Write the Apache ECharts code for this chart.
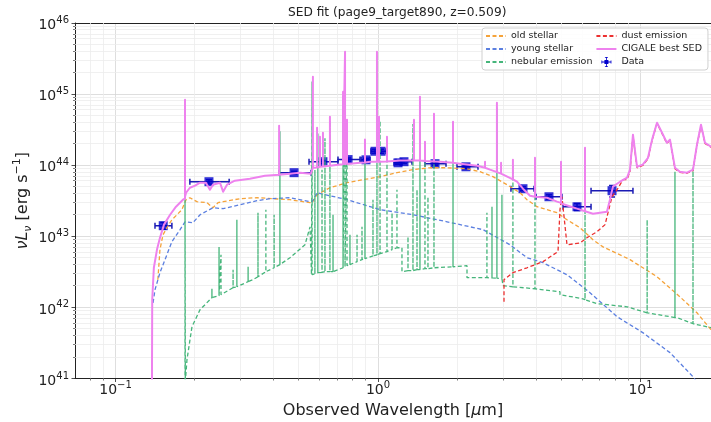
<!DOCTYPE html>
<html>
<head>
<meta charset="utf-8">
<title>SED fit</title>
<script src="https://cdn.jsdelivr.net/npm/echarts@6.0.0/dist/echarts.min.js"></script>
<style>
  html, body { margin: 0; padding: 0; background: #fff; }
  #chart { width: 711px; height: 422px; }
</style>
</head>
<body>
<div id="chart"></div>
<script>
// wavelength in micron, nuLnu in erg/s

// photometry points
const dataLam = [0.152, 0.227, 0.479, 0.617, 0.769, 0.900, 0.974, 1.027, 1.192, 1.256, 1.649, 2.163, 3.567, 4.48, 5.73, 7.79];
const dataLum = [1.41e43, 5.86e43, 7.85e43, 1.12e44, 1.2e44, 1.19e44, 1.57e44, 1.57e44, 1.08e44, 1.12e44, 1.05e44, 9.5e43, 4.67e43, 3.6e43, 2.6e43, 4.38e43];
const dataLamLo = [0.1414, 0.192, 0.42, 0.546, 0.704, 0.862, 0.94, 0.99, 1.151, 1.171, 1.51, 2.0, 3.21, 4.0, 5.07, 6.48];
const dataLamHi = [0.164, 0.271, 0.556, 0.704, 0.854, 0.932, 1.01, 1.073, 1.234, 1.347, 1.816, 2.404, 3.93, 5.02, 6.48, 9.36];
const dataLumErr = [1.5e42, 4e42, 4e42, 6e42, 6e42, 6e42, 1e43, 1e43, 6e42, 6e42, 5e42, 5e42, 3e42, 2.5e42, 3e42, 8e42];

// old stellar component
const oldStellar = [
  [0.145, 2.45e42], [0.1477, 6.5e42], [0.1517, 1.05e43], [0.157, 1.32e43], [0.164, 1.71e43], [0.1715, 2.01e43],
  [0.179, 2.37e43], [0.1857, 3.27e43], [0.192, 3.49e43], [0.2042, 3.07e43], [0.223, 2.97e43], [0.235, 2.52e43],
  [0.2457, 2.97e43], [0.257, 3.07e43], [0.298, 3.38e43], [0.346, 3.49e43], [0.398, 3.38e43], [0.462, 3.27e43],
  [0.551, 2.97e43], [0.561, 2.97e43], [0.586, 3.85e43], [0.656, 4.82e43], [0.762, 5.68e43], [0.877, 6.25e43],
  [1.018, 6.9e43], [1.181, 7.85e43], [1.359, 8.65e43], [1.578, 9.2e43], [1.832, 9.2e43], [2.183, 8.9e43],
  [2.447, 8.1e43], [2.742, 6.9e43], [3.098, 5.32e43], [3.475, 4.1e43], [3.695, 3.27e43], [4.034, 2.61e43],
  [4.808, 2.15e43], [5.248, 1.71e43], [5.883, 1.32e43], [6.59, 8.95e42], [7.20, 7.1e42], [9.12, 4.7e42],
  [11.56, 2.7e42], [14.13, 1.41e42], [16.41, 8.4e41], [18.56, 4.86e41], [20.1, 4.0e41]
];

// young stellar component
const youngStellar = [
  [0.139, 1.16e42], [0.1414, 1.77e42], [0.1477, 3.08e42], [0.1544, 4.7e42], [0.164, 8.4e42], [0.1762, 1.24e43],
  [0.184, 1.6e43], [0.197, 1.55e43], [0.21, 2.01e43], [0.235, 2.52e43], [0.257, 2.45e43], [0.298, 2.78e43],
  [0.346, 3.17e43], [0.388, 3.38e43], [0.462, 3.49e43], [0.551, 3.07e43], [0.561, 3.07e43], [0.586, 4.1e43],
  [0.762, 3.27e43], [1.018, 2.37e43], [1.359, 2.01e43], [1.832, 1.6e43], [2.512, 1.24e43], [3.184, 7.6e42],
  [3.695, 5.0e42], [4.253, 4.25e42], [5.248, 2.88e42], [6.42, 1.61e42], [8.14, 7.4e41], [10.2, 4.42e41],
  [12.95, 2.31e41], [15.85, 1.06e41], [16.8, 8e40]
];

// nebular emission: continuum plus lines (each line = base, peak, base)
const nebular = [
  [0.184, 9e40], [0.184, 3.3e43], [0.1845, 9e40],
  [0.1872, 1.84e41], [0.1956, 5.36e41], [0.21, 9.3e41],
  [0.233, 1.37e42], [0.233, 1.83e42], [0.233, 1.37e42],
  [0.235, 1.4e42],
  [0.248, 1.46e42], [0.248, 7.1e42], [0.248, 1.46e42],
  [0.2523, 1.51e42], [0.2523, 5.5e42], [0.2523, 1.51e42],
  [0.2805, 1.89e42], [0.2805, 3.39e42], [0.2805, 1.89e42],
  [0.290, 1.95e42], [0.290, 1.71e43], [0.290, 1.95e42],
  [0.320, 2.3e42], [0.320, 3.73e42], [0.320, 2.3e42],
  [0.334, 2.45e42],
  [0.349, 2.7e42], [0.349, 2.15e43], [0.349, 2.7e42],
  [0.374, 3.18e42], [0.374, 2.37e43], [0.374, 3.18e42],
  [0.402, 3.61e42], [0.402, 2.01e43], [0.402, 3.61e42],
  [0.423, 4.0e42], [0.423, 3.0e44], [0.423, 4.0e42],
  [0.462, 5.0e42], [0.527, 7.6e42], [0.551, 1.36e43], [0.558, 2.88e42],
  [0.561, 2.88e42], [0.561, 1.5e45], [0.561, 2.88e42],
  [0.575, 2.98e42], [0.575, 8.6e43], [0.575, 2.98e42],
  [0.590, 3.08e42], [0.590, 2.8e44], [0.590, 3.08e42],
  [0.612, 3.1e42], [0.612, 8.6e43], [0.612, 3.1e42],
  [0.628, 3.18e42], [0.628, 2.4e44], [0.628, 3.18e42],
  [0.656, 3.18e42], [0.656, 4.2e44], [0.656, 3.18e42],
  [0.674, 3.18e42], [0.674, 2.01e43], [0.674, 3.18e42],
  [0.736, 3.61e42], [0.736, 9.5e44], [0.736, 3.61e42],
  [0.749, 3.73e42], [0.749, 3.5e45], [0.749, 3.73e42],
  [0.762, 3.86e42], [0.762, 3.8e44], [0.762, 3.86e42],
  [0.782, 4.0e42], [0.782, 1.05e43], [0.782, 4.0e42],
  [0.832, 4.4e42], [0.832, 1.05e43], [0.832, 4.4e42],
  [0.869, 4.7e42], [0.869, 1.36e43], [0.869, 4.7e42],
  [0.892, 4.85e42], [0.892, 2.0e44], [0.892, 4.85e42],
  [0.957, 5.3e42], [0.957, 3.27e43], [0.957, 5.3e42],
  [0.991, 5.5e42], [0.991, 3.5e45], [0.991, 5.5e42],
  [1.018, 5.7e42], [1.018, 4.2e44], [1.018, 5.7e42],
  [1.082, 6.1e42], [1.082, 2.2e44], [1.082, 6.1e42],
  [1.131, 6.5e42], [1.131, 2.15e43], [1.131, 6.5e42],
  [1.181, 6.9e42], [1.181, 4.52e43], [1.181, 6.9e42],
  [1.234, 6.9e42], [1.234, 3.18e42],
  [1.301, 3.28e42], [1.301, 9.9e42], [1.301, 3.28e42],
  [1.359, 3.3e42], [1.359, 3.8e44], [1.359, 3.3e42],
  [1.408, 3.39e42], [1.408, 4.52e43], [1.408, 3.39e42],
  [1.445, 3.39e42], [1.445, 8.0e44], [1.445, 3.39e42],
  [1.510, 3.5e42], [1.510, 1.9e44], [1.510, 3.5e42],
  [1.550, 3.5e42], [1.550, 3.6e43], [1.550, 3.5e42],
  [1.634, 3.61e42], [1.634, 4.6e44], [1.634, 3.61e42],
  [1.931, 3.73e42], [1.931, 3.6e44], [1.931, 3.73e42],
  [2.183, 3.86e42], [2.183, 2.62e42],
  [2.60, 2.62e42], [2.60, 2.15e43], [2.60, 2.62e42],
  [2.718, 2.6e42], [2.718, 2.61e43], [2.718, 2.6e42],
  [2.838, 2.58e42], [2.838, 6.5e44], [2.838, 2.58e42],
  [2.966, 2.54e42], [2.966, 3.85e43], [2.966, 2.54e42],
  [2.993, 2.54e42], [2.993, 2.02e42],
  [3.266, 1.95e42], [3.266, 1.0e44], [3.266, 1.95e42],
  [3.963, 1.83e42], [3.963, 1.1e44], [3.963, 1.83e42],
  [4.935, 1.66e42], [4.935, 1.51e42],
  [6.04, 1.32e42],
  [6.147, 1.28e42], [6.147, 1.5e44], [6.147, 1.28e42],
  [6.83, 1.13e42], [8.89, 1.02e42],
  [10.6, 8.4e41], [10.6, 1.71e43], [10.6, 8.4e41],
  [13.53, 7.2e41], [13.53, 8.1e43], [13.53, 7.2e41],
  [13.77, 7.2e41],
  [15.85, 5.9e41], [15.85, 9.2e43], [15.85, 5.9e41],
  [18.56, 5.19e41], [20.1, 4.9e41]
];

// dust emission
const dust = [
  [3.02, 1.2e42], [3.02, 2.45e42], [3.266, 3.08e42], [3.695, 3.61e42], [4.253, 4.4e42], [4.85, 6.1e42],
  [4.935, 2.37e43], [5.02, 3.6e43], [5.248, 7.6e42], [5.883, 8.05e42], [6.25, 9.55e42], [6.83, 1.16e43],
  [7.33, 1.46e43], [7.52, 2.15e43], [7.79, 3.6e43], [8.14, 4.52e43], [8.58, 6.25e43], [8.89, 6.3e43],
  [9.12, 8.2e43], [9.36, 2.6e44], [9.70, 9.2e43], [10.2, 9.9e43], [10.68, 1.23e44], [11.07, 2.25e44],
  [11.56, 3.9e44], [12.08, 2.8e44], [12.6, 2.02e44], [12.95, 2.25e44], [13.53, 8.9e43], [14.13, 7.9e43],
  [15.03, 7.7e43], [15.85, 8.4e43], [16.41, 1.9e44], [17.0, 3.65e44], [17.6, 2.03e44], [18.56, 1.79e44],
  [20.1, 1.9e44]
];

// CIGALE best-fit total SED
const bestSed = [
  [0.1377, 9e40], [0.138, 1.28e42], [0.140, 3.61e42], [0.1439, 6.5e42], [0.1477, 9.55e42], [0.153, 1.46e43],
  [0.1614, 2.01e43], [0.170, 2.61e43], [0.1807, 3.27e43],
  [0.184, 3.4e43], [0.184, 8.3e44], [0.184, 3.6e43],
  [0.1857, 4.1e43], [0.192, 4.82e43], [0.201, 5.15e43], [0.21, 5.68e43], [0.221, 5.68e43], [0.229, 4.52e43],
  [0.235, 5.32e43], [0.25, 5.68e43], [0.257, 4.24e43], [0.266, 5.32e43], [0.285, 6.05e43], [0.325, 6.45e43],
  [0.371, 7.1e43],
  [0.42, 7.35e43], [0.42, 3.6e44], [0.42, 7.35e43],
  [0.462, 7.6e43], [0.505, 7.85e43], [0.555, 7.6e43],
  [0.565, 9.2e43], [0.565, 1.76e45], [0.565, 9.2e43],
  [0.586, 9.3e43], [0.586, 3.37e44], [0.586, 9.3e43],
  [0.601, 9.5e43], [0.601, 2.52e44], [0.601, 9.5e43],
  [0.617, 9.6e43], [0.617, 2.86e44], [0.617, 9.6e43],
  [0.656, 9.8e43], [0.656, 4.81e44], [0.656, 9.8e43],
  [0.717, 1.02e44],
  [0.736, 1.03e44], [0.736, 1.08e45], [0.736, 1.03e44],
  [0.749, 1.03e44], [0.749, 3.94e45], [0.749, 1.03e44],
  [0.762, 1.04e44], [0.762, 4.37e44], [0.762, 1.04e44],
  [0.782, 1.05e44], [0.854, 1.08e44],
  [0.892, 1.09e44], [0.892, 2.29e44], [0.892, 1.09e44],
  [0.932, 1.12e44],
  [0.991, 1.12e44], [0.991, 3.94e45], [0.991, 1.12e44],
  [1.009, 1.12e44], [1.009, 4.81e44], [1.009, 1.12e44],
  [1.018, 1.12e44],
  [1.082, 1.13e44], [1.082, 2.52e44], [1.082, 1.13e44],
  [1.213, 1.16e44],
  [1.371, 1.16e44], [1.371, 4.37e44], [1.371, 1.16e44],
  [1.445, 1.16e44], [1.445, 9.2e44], [1.445, 1.16e44],
  [1.51, 1.15e44], [1.51, 2.14e44], [1.51, 1.15e44],
  [1.634, 1.13e44], [1.634, 5.3e44], [1.634, 1.13e44],
  [1.722, 1.12e44],
  [1.931, 1.08e44], [1.931, 4.09e44], [1.931, 1.08e44],
  [2.053, 1.05e44], [2.383, 9.8e43],
  [2.557, 9.2e43], [2.557, 1.12e44], [2.557, 9.2e43],
  [2.672, 8.65e43],
  [2.838, 8.0e43], [2.838, 7.57e44], [2.838, 8.0e43],
  [2.943, 7.6e43], [2.943, 1.08e44], [2.943, 7.6e43],
  [2.993, 7.35e43],
  [3.266, 6.3e43], [3.266, 1.19e44], [3.266, 6.3e43],
  [3.385, 5.86e43], [3.567, 4.67e43], [3.794, 3.72e43],
  [3.963, 3.6e43], [3.963, 1.27e44], [3.963, 3.6e43],
  [4.405, 3.49e43], [4.808, 3.07e43],
  [4.98, 2.95e43], [4.98, 1.12e44], [4.98, 2.9e43],
  [5.157, 2.78e43], [5.883, 2.37e43],
  [6.147, 2.25e43], [6.147, 1.76e44], [6.147, 2.25e43],
  [6.59, 2.08e43], [7.45, 2.22e43], [7.65, 3.27e43], [7.85, 4.99e43], [8.36, 5.86e43], [8.89, 6.7e43],
  [9.12, 8.65e43], [9.36, 2.69e44], [9.70, 9.5e43], [10.2, 1.02e44], [10.68, 1.27e44], [11.07, 2.29e44],
  [11.56, 3.96e44], [12.08, 2.86e44], [12.6, 2.07e44], [12.95, 2.29e44], [13.53, 9.2e43], [14.13, 8.1e43],
  [15.03, 7.85e43], [15.85, 8.65e43], [16.41, 1.94e44], [17.0, 3.71e44], [17.6, 2.07e44], [18.56, 1.82e44],
  [20.1, 1.94e44]
];

// axis ranges and grid ticks
const xMin = 0.0701, xMax = 18.56, yMin = 1e41, yMax = 1e46;
const xMinorTicks = [0.08, 0.09, 0.2, 0.3, 0.4, 0.5, 0.6, 0.7, 0.8, 0.9, 2, 3, 4, 5, 6, 7, 8, 9];
const yDecades = [1e41, 1e42, 1e43, 1e44, 1e45];
const yMinorMantissa = [2, 3, 4, 5, 6, 7, 8, 9];
const yMinorTicks = yDecades.flatMap(d => yMinorMantissa.map(m => m * d));

const FONT = 'DejaVu Sans';
const INK = '#222';

function powLabel(v) {
  const e = Math.round(Math.log10(v));
  if (Math.abs(Math.log10(v) - e) > 1e-6) return '';
  return '{b|10}{s|' + String(e).replace('-', '\u2212') + '}';
}
const powRich = {
  b: { fontFamily: FONT, fontSize: 14, lineHeight: 20, color: INK },
  s: { fontFamily: FONT, fontSize: 10, lineHeight: 10, verticalAlign: 'top', color: INK }
};

function crisp(v) { return Math.round(v - 0.5) + 0.5; }

const chart = echarts.init(document.getElementById('chart'));

const hideDot = { opacity: 0 };

chart.setOption({
  animation: false,
  backgroundColor: '#fff',
  title: {
    text: 'SED fit (page9_target890, z=0.509)',
    left: 283,
    top: 2,
    textStyle: { fontFamily: FONT, fontSize: 12.2, fontWeight: 'normal', color: INK }
  },
  legend: {
    orient: 'vertical',
    left: 482,
    top: 28,
    height: 46,
    itemWidth: 20,
    itemHeight: 10,
    itemGap: 3,
    padding: [3, 6, 3, 3],
    backgroundColor: 'rgba(255,255,255,0.85)',
    borderColor: '#d0d0d0',
    borderWidth: 1,
    borderRadius: 3,
    textStyle: { fontFamily: FONT, fontSize: 9.5, color: INK, padding: [0, 17, 0, 0] },
    data: [
      { name: 'old stellar', itemStyle: hideDot },
      { name: 'young stellar', itemStyle: hideDot },
      { name: 'nebular emission', itemStyle: hideDot },
      { name: 'dust emission', itemStyle: hideDot },
      { name: 'CIGALE best SED', itemStyle: hideDot },
      { name: 'Data', icon: 'path://M3,3h4v4h-4z M0,4.6h10v0.8h-10z M4.6,0h0.8v10h-0.8z M0,3.5h0.8v3h-0.8z M9.2,3.5h0.8v3h-0.8z M3.5,0h3v0.8h-3z M3.5,9.2h3v0.8h-3z', itemStyle: { color: '#0000cd', opacity: 1 } }
    ]
  },
  grid: { left: 75, right: 0, top: 23, bottom: 43.5, outerBoundsMode: 'none', containLabel: false },
  xAxis: [{
    type: 'log',
    logBase: 10,
    min: xMin,
    max: xMax,
    name: 'Observed Wavelength [{it|\u03bc}m]',
    nameLocation: 'middle',
    nameGap: 22,
    nameMoveOverlap: false,
    nameTextStyle: {
      fontFamily: FONT, fontSize: 16, color: INK, lineHeight: 20,
      rich: { it: { fontFamily: FONT, fontSize: 16, fontStyle: 'italic', color: INK, lineHeight: 20 } }
    },
    axisLine: { show: true, lineStyle: { color: INK, width: 1 } },
    axisTick: { show: true, length: 3.5, lineStyle: { color: INK, width: 0.8 } },
    axisLabel: { margin: 2, formatter: powLabel, rich: powRich, showMinLabel: false, showMaxLabel: false },
    splitLine: { show: true, lineStyle: { color: '#d6d6d6', width: 0.8 } }
  }, {
    type: 'log',
    logBase: 10,
    position: 'top',
    min: xMin,
    max: xMax,
    axisLine: { show: true, lineStyle: { color: INK, width: 1 } },
    axisTick: { show: false },
    axisLabel: { show: false },
    splitLine: { show: false }
  }],
  yAxis: {
    type: 'log',
    logBase: 10,
    min: yMin,
    max: yMax,
    name: '{it|\u03bdL}{sub|\u03bd} [erg s{sup|\u22121}]',
    nameLocation: 'middle',
    nameRotate: 90,
    nameGap: 41,
    nameMoveOverlap: false,
    nameTextStyle: {
      fontFamily: FONT, fontSize: 16, color: INK, lineHeight: 22,
      rich: {
        it: { fontFamily: FONT, fontSize: 16, fontStyle: 'italic', color: INK, lineHeight: 22 },
        sub: { fontFamily: FONT, fontSize: 11, fontStyle: 'italic', color: INK, lineHeight: 14, verticalAlign: 'bottom' },
        sup: { fontFamily: FONT, fontSize: 11, color: INK, lineHeight: 12, verticalAlign: 'top' }
      }
    },
    axisLine: { show: true, lineStyle: { color: INK, width: 1 } },
    axisTick: { show: true, length: 3.5, lineStyle: { color: INK, width: 0.8 } },
    axisLabel: { margin: 6, padding: [5, 0, 0, 0], formatter: powLabel, rich: powRich },
    splitLine: { show: true, lineStyle: { color: '#d6d6d6', width: 0.8 } }
  },
  series: [
    {
      name: 'xMinorGrid',
      type: 'custom',
      silent: true,
      clip: false,
      z: 1,
      data: xMinorTicks.map(v => [v, yMin]),
      encode: { x: 0, y: 1 },
      renderItem: (params, api) => {
        const v = api.value(0);
        const b = api.coord([v, yMin]);
        const t = api.coord([v, yMax]);
        const x = crisp(b[0]);
        return {
          type: 'group', children: [
            { type: 'line', shape: { x1: x, y1: t[1], x2: x, y2: b[1] }, style: { stroke: '#ececec', lineWidth: 0.8 } },
            { type: 'line', shape: { x1: x, y1: b[1], x2: x, y2: b[1] + 2 }, style: { stroke: INK, lineWidth: 0.6 } }
          ]
        };
      }
    },
    {
      name: 'yMinorGrid',
      type: 'custom',
      silent: true,
      clip: false,
      z: 1,
      data: yMinorTicks.map(v => [xMin, v]),
      encode: { x: 0, y: 1 },
      renderItem: (params, api) => {
        const v = api.value(1);
        const l = api.coord([xMin, v]);
        const r = api.coord([xMax, v]);
        const y = crisp(l[1]);
        return {
          type: 'group', children: [
            { type: 'line', shape: { x1: l[0], y1: y, x2: r[0], y2: y }, style: { stroke: '#ececec', lineWidth: 0.8 } },
            { type: 'line', shape: { x1: l[0] - 2, y1: y, x2: l[0], y2: y }, style: { stroke: INK, lineWidth: 0.6 } }
          ]
        };
      }
    },
    {
      name: 'old stellar', type: 'line', data: oldStellar, symbol: 'none',
      lineStyle: { color: '#f5a33a', width: 1.3, type: [4, 2.5] }, itemStyle: { color: '#f5a33a' }
    },
    {
      name: 'young stellar', type: 'line', data: youngStellar, symbol: 'none',
      lineStyle: { color: '#5b7fe0', width: 1.3, type: [4, 2.5] }, itemStyle: { color: '#5b7fe0' }
    },
    {
      name: 'nebular emission', type: 'line', data: nebular, symbol: 'none',
      lineStyle: { color: '#45b57a', width: 1.3, type: [4, 2.5] }, itemStyle: { color: '#45b57a' }
    },
    {
      name: 'dust emission', type: 'line', data: dust, symbol: 'none',
      lineStyle: { color: '#ec3030', width: 1.3, type: [4, 2.5] }, itemStyle: { color: '#ec3030' }
    },
    {
      name: 'CIGALE best SED', type: 'line', data: bestSed, symbol: 'none',
      lineStyle: { color: '#ee82ee', width: 2, join: 'round' }, itemStyle: { color: '#ee82ee' }
    },
    {
      name: 'Data',
      type: 'custom',
      clip: true,
      data: dataLam.map((l, i) => [l, dataLum[i], dataLamLo[i], dataLamHi[i], dataLum[i] - dataLumErr[i], dataLum[i] + dataLumErr[i]]),
      encode: { x: 0, y: 1 },
      itemStyle: { color: '#1a1ab4' },
      renderItem: (params, api) => {
        const y = api.value(1);
        const x = api.value(0);
        const pl = api.coord([api.value(2), y]);
        const pr = api.coord([api.value(3), y]);
        const pb = api.coord([x, api.value(4)]);
        const pt = api.coord([x, api.value(5)]);
        const st = { stroke: '#1a1ab4', lineWidth: 1.5 };
        const c = 3;
        return {
          type: 'group', children: [
            { type: 'line', shape: { x1: pl[0], y1: pl[1], x2: pr[0], y2: pr[1] }, style: st },
            { type: 'line', shape: { x1: pl[0], y1: pl[1] - c, x2: pl[0], y2: pl[1] + c }, style: st },
            { type: 'line', shape: { x1: pr[0], y1: pr[1] - c, x2: pr[0], y2: pr[1] + c }, style: st },
            { type: 'line', shape: { x1: pb[0], y1: pb[1], x2: pt[0], y2: pt[1] }, style: st },
            { type: 'line', shape: { x1: pb[0] - c, y1: pb[1], x2: pb[0] + c, y2: pb[1] }, style: st },
            { type: 'line', shape: { x1: pt[0] - c, y1: pt[1], x2: pt[0] + c, y2: pt[1] }, style: st }
          ]
        };
      }
    },
    {
      name: 'Data',
      type: 'scatter',
      data: dataLam.map((l, i) => [l, dataLum[i]]),
      symbol: 'rect',
      symbolSize: 9,
      itemStyle: { color: '#0000cd' }
    }
  ]
});
</script>
</body>
</html>
